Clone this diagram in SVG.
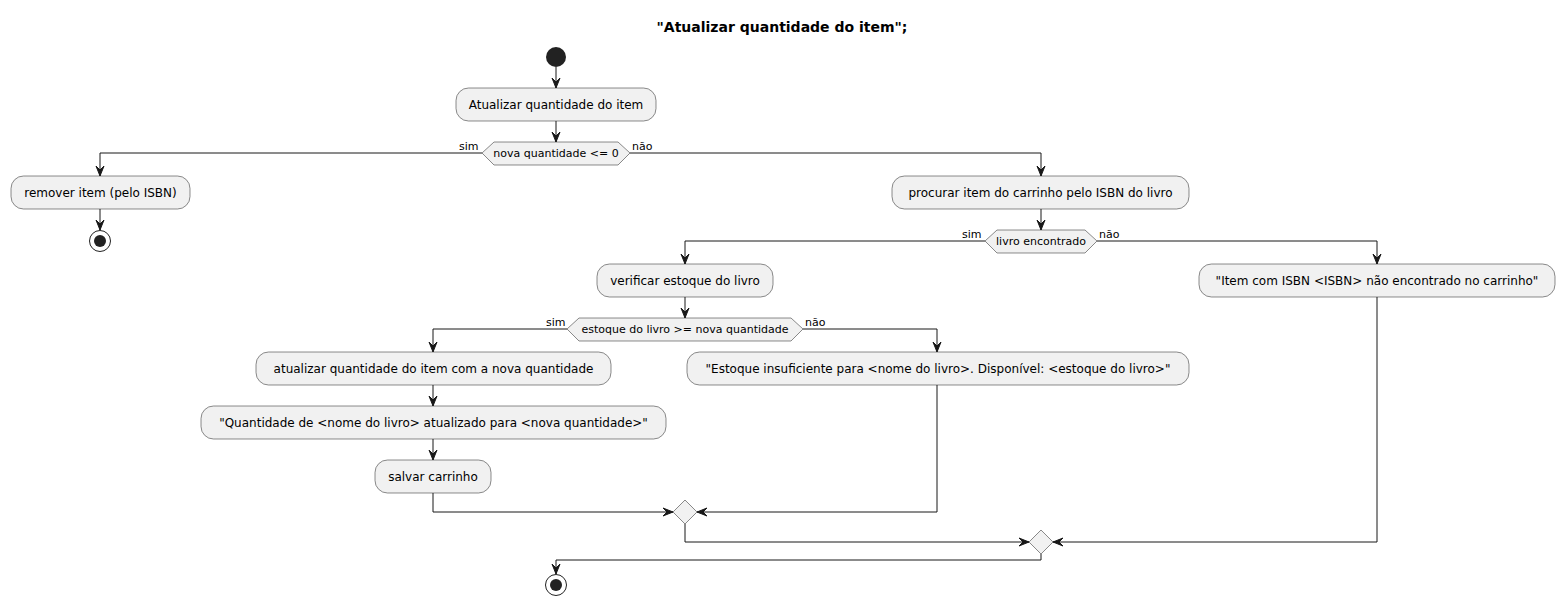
<svg xmlns="http://www.w3.org/2000/svg" width="1565" height="605" viewBox="0 0 1565 605">
<style>
.box{fill:#F1F1F1;stroke:#181818;stroke-width:0.5}
.t{font-family:"DejaVu Sans",sans-serif;font-size:12px;fill:#000;text-anchor:middle}
.d{font-family:"DejaVu Sans",sans-serif;font-size:11px;fill:#000;text-anchor:middle}
.l{font-family:"DejaVu Sans",sans-serif;font-size:11px;fill:#000}
.ln{fill:none;stroke:#181818;stroke-width:1}
.ah{fill:#181818;stroke:#181818;stroke-width:1}
</style>
<rect width="1565" height="605" fill="#fff"/>
<text x="782" y="32" font-family="DejaVu Sans,sans-serif" font-size="14" font-weight="bold" text-anchor="middle">"Atualizar quantidade do item";</text>

<g id="start"><circle cx="556" cy="57" r="10" fill="#222"/></g>

<g id="n1"><rect class="box" x="456" y="88" width="200" height="33" rx="12.5"/><text class="t" x="556" y="109">Atualizar quantidade do item</text></g>
<g id="d1"><polygon class="box" points="482,153 494,142 618,142 630,153 618,165 494,165"/><text class="d" x="556" y="157">nova quantidade &lt;= 0</text>
<text class="l" x="459" y="150">sim</text><text class="l" x="632" y="150">não</text></g>
<g id="n2"><rect class="box" x="11" y="176" width="179" height="33" rx="12.5"/><text class="t" x="100.5" y="197"> remover item (pelo ISBN)</text></g>
<g id="stop1"><circle cx="100" cy="241" r="10.5" fill="none" stroke="#222" stroke-width="1"/><circle cx="100" cy="241" r="6" fill="#222"/></g>
<g id="n3"><rect class="box" x="892" y="176" width="297" height="33" rx="12.5"/><text class="t" x="1040.5" y="197">procurar item do carrinho pelo ISBN do livro</text></g>
<g id="d2"><polygon class="box" points="985,241 997,230 1085,230 1097,241 1085,253 997,253"/><text class="d" x="1041" y="245">livro encontrado</text>
<text class="l" x="962" y="238">sim</text><text class="l" x="1099" y="238">não</text></g>
<g id="n4"><rect class="box" x="597" y="264" width="176" height="33" rx="12.5"/><text class="t" x="685" y="285">verificar estoque do livro</text></g>
<g id="n5"><rect class="box" x="1199" y="264" width="356" height="33" rx="12.5"/><text class="t" x="1377" y="285">"Item com ISBN &lt;ISBN&gt; não encontrado no carrinho"</text></g>
<g id="d3"><polygon class="box" points="567,329 579,318 791,318 803,329 791,341 579,341"/><text class="d" x="685" y="333">estoque do livro &gt;= nova quantidade</text>
<text class="l" x="546" y="326">sim</text><text class="l" x="805" y="326">não</text></g>
<g id="n6"><rect class="box" x="256" y="352" width="355" height="33" rx="12.5"/><text class="t" x="433.5" y="373">atualizar quantidade do item com a nova quantidade</text></g>
<g id="n7"><rect class="box" x="201" y="406" width="465" height="33" rx="12.5"/><text class="t" x="433.5" y="427">"Quantidade de &lt;nome do livro&gt; atualizado para &lt;nova quantidade&gt;"</text></g>
<g id="n8"><rect class="box" x="375" y="460" width="116" height="33" rx="12.5"/><text class="t" x="433" y="481">salvar carrinho</text></g>
<g id="n9"><rect class="box" x="687" y="352" width="502" height="33" rx="12.5"/><text class="t" x="938" y="373">"Estoque insuficiente para &lt;nome do livro&gt;. Disponível: &lt;estoque do livro&gt;"</text></g>
<g id="m1"><polygon class="box" points="685,500 697,512 685,524 673,512"/></g>
<g id="m2"><polygon class="box" points="1041,530 1053,542 1041,554 1029,542"/></g>
<g id="stop2"><circle cx="556" cy="585" r="10.5" fill="none" stroke="#222" stroke-width="1"/><circle cx="556" cy="585" r="6" fill="#222"/></g>

<g id="connectors">
<path class="ln" d="M556,67 V88"/><polygon class="ah" points="552,78 556,88 560,78 556,82"/>
<path class="ln" d="M556,121 V142"/><polygon class="ah" points="552,132 556,142 560,132 556,136"/>
<path class="ln" d="M482,153 H100 V176"/><polygon class="ah" points="96,166 100,176 104,166 100,170"/>
<path class="ln" d="M100,209 V230"/><polygon class="ah" points="96,220 100,230 104,220 100,224"/>
<path class="ln" d="M630,153 H1041 V176"/><polygon class="ah" points="1037,166 1041,176 1045,166 1041,170"/>
<path class="ln" d="M1041,209 V230"/><polygon class="ah" points="1037,220 1041,230 1045,220 1041,224"/>
<path class="ln" d="M985,241 H685 V264"/><polygon class="ah" points="681,254 685,264 689,254 685,258"/>
<path class="ln" d="M1097,241 H1377 V264"/><polygon class="ah" points="1373,254 1377,264 1381,254 1377,258"/>
<path class="ln" d="M685,297 V318"/><polygon class="ah" points="681,308 685,318 689,308 685,312"/>
<path class="ln" d="M567,329 H433 V352"/><polygon class="ah" points="429,342 433,352 437,342 433,346"/>
<path class="ln" d="M803,329 H937 V352"/><polygon class="ah" points="933,342 937,352 941,342 937,346"/>
<path class="ln" d="M433,385 V406"/><polygon class="ah" points="429,396 433,406 437,396 433,400"/>
<path class="ln" d="M433,439 V460"/><polygon class="ah" points="429,450 433,460 437,450 433,454"/>
<path class="ln" d="M433,493 V512 H673"/><polygon class="ah" points="663,508 673,512 663,516 667,512"/>
<path class="ln" d="M937,385 V512 H697"/><polygon class="ah" points="707,508 697,512 707,516 703,512"/>
<path class="ln" d="M685,524 V542 H1029"/><polygon class="ah" points="1019,538 1029,542 1019,546 1023,542"/>
<path class="ln" d="M1377,297 V542 H1053"/><polygon class="ah" points="1063,538 1053,542 1063,546 1059,542"/>
<path class="ln" d="M1041,554 V560 H556 V574"/><polygon class="ah" points="552,564 556,574 560,564 556,568"/>
</g>
</svg>
